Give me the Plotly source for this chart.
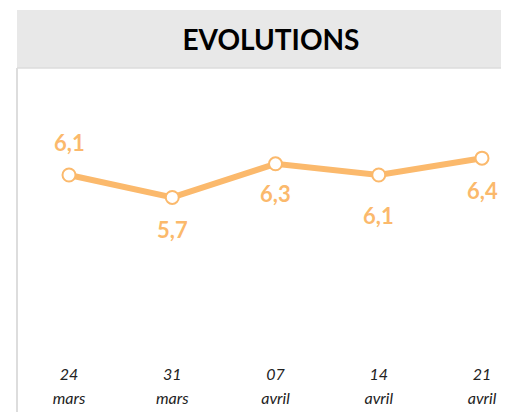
import plotly.graph_objects as go

# ---- data ----
days = ["24", "31", "07", "14", "21"]
months = ["mars", "mars", "avril", "avril", "avril"]
values = [6.1, 5.7, 6.3, 6.1, 6.4]
value_labels = ["6,1", "5,7", "6,3", "6,1", "6,4"]

# ---- style ----
ORANGE = "#FBB96C"
label_shift = [33, -32, -30, -40, -32]
FONT = "Lato"

x_idx = list(range(len(values)))

# page body has an 8px default margin, so the figure is offset by 8px
OFF = 8
W, H = 509 - OFF, 412 - OFF
top, bottom = 68 - OFF, 350 - OFF
left = 17 - OFF
ph = bottom - top

fig = go.Figure()
fig.add_trace(go.Scatter(
    x=x_idx, y=values, mode="lines+markers",
    line=dict(color=ORANGE, width=6),
    marker=dict(size=13, color="white", line=dict(color=ORANGE, width=2)),
    hoverinfo="skip", showlegend=False, cliponaxis=False,
))
# invisible trace to activate xaxis2 (month labels)
fig.add_trace(go.Scatter(x=x_idx, y=values, xaxis="x2", mode="markers",
                         marker=dict(opacity=0), hoverinfo="skip", showlegend=False))

for xi, v, t, s in zip(x_idx, values, value_labels, label_shift):
    fig.add_annotation(x=xi, y=v, text="<b>%s</b>" % t, showarrow=False,
                       yshift=s, font=dict(family=FONT, size=22, color=ORANGE))

tickfont = dict(family=FONT, size=16, color="#222222", style="italic")

px_per_cat = 103.25
x0 = -(69 - 17) / px_per_cat
x1 = x0 + (W - left) / px_per_cat

fig.update_layout(
    width=W, height=H,
    margin=dict(l=left, r=0, t=top, b=H - bottom, pad=0),
    paper_bgcolor="white", plot_bgcolor="white",
    title=dict(text="<b>EVOLUTIONS</b>", x=(271 - OFF) / W, xanchor="center",
               y=1 - (40 - OFF) / H, yanchor="middle",
               font=dict(family=FONT, size=28, color="black")),
    xaxis=dict(range=[x0, x1], tickvals=x_idx, ticktext=days,
               showgrid=False, zeroline=False, showline=False, ticks="",
               tickfont=tickfont, ticklabelstandoff=13),
    xaxis2=dict(overlaying="x", matches="x", side="bottom", anchor="y",
                tickvals=x_idx, ticktext=months,
                showgrid=False, zeroline=False, showline=False, ticks="",
                tickfont=tickfont, ticklabelstandoff=37),
    yaxis=dict(range=[2.981, 8.007], visible=False, showgrid=False, zeroline=False),
    shapes=[
        dict(type="rect", xref="paper", yref="paper", x0=0, x1=1.05,
             y0=1, y1=1 + 58 / ph, fillcolor="#E8E8E8", line=dict(width=0), layer="below"),
        dict(type="line", xref="paper", yref="paper", x0=0, x1=1.05,
             y0=1, y1=1, line=dict(color="#DDDDDD", width=1.5)),
        dict(type="line", xref="paper", yref="paper", x0=0, x1=0,
             y0=1, y1=-(H - bottom) / ph - 0.05, line=dict(color="#DDDDDD", width=2)),
    ],
)
fig.write_html("out.html")
